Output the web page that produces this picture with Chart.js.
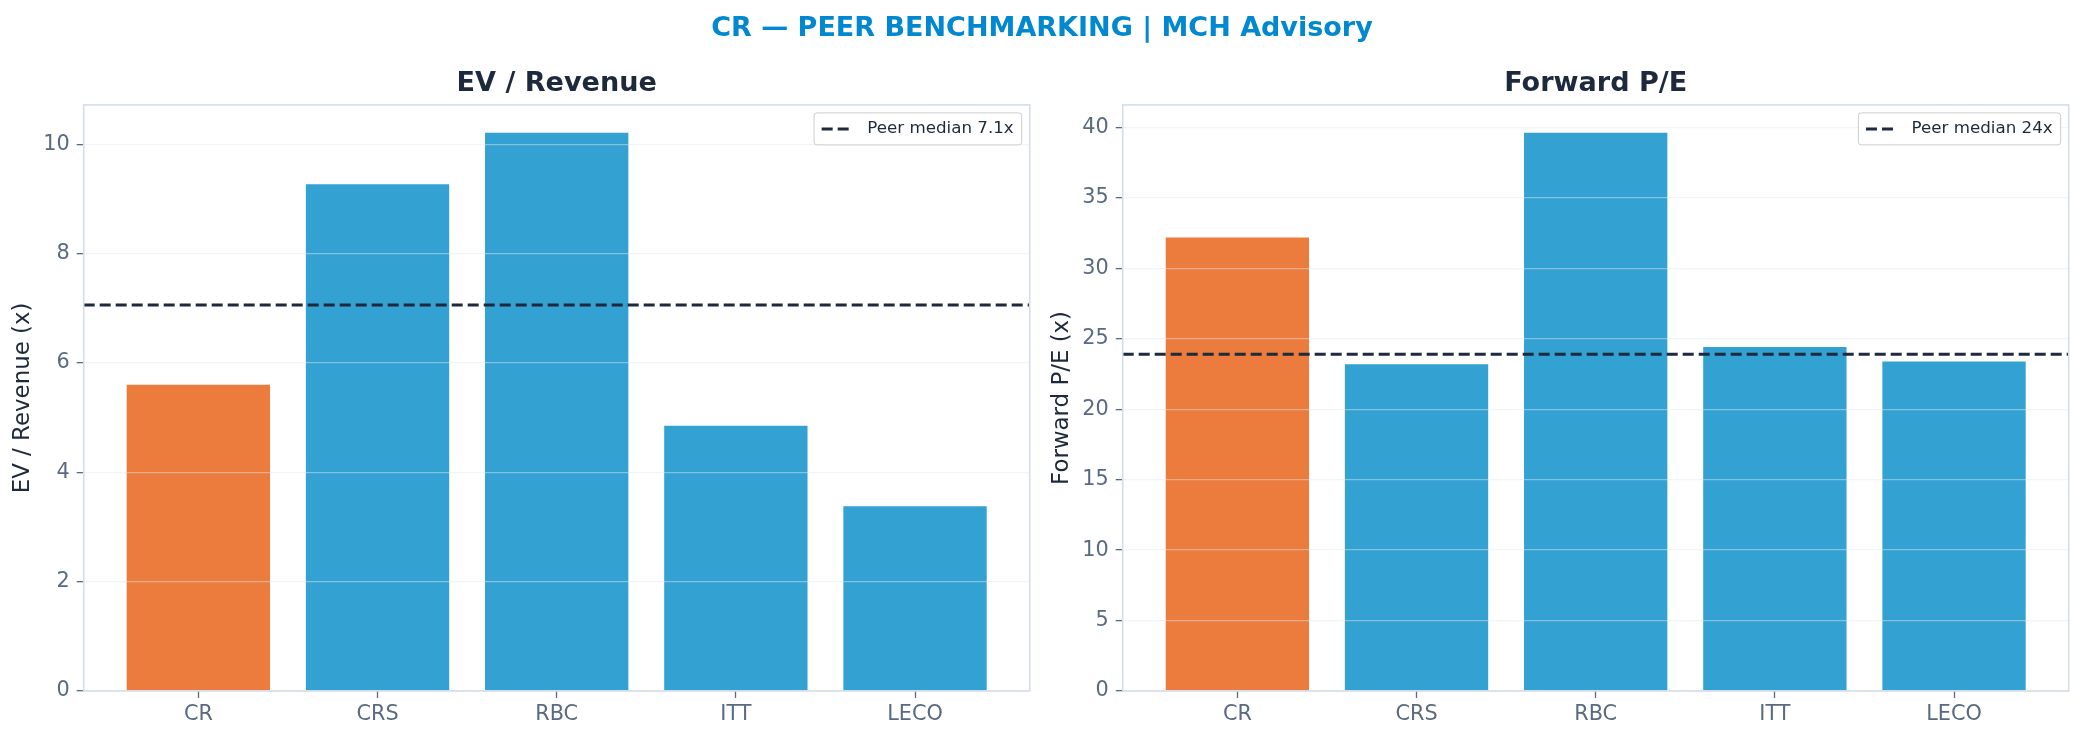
<!DOCTYPE html>
<html>
<head>
<meta charset="utf-8">
<script src="https://cdn.jsdelivr.net/npm/chart.js@4.4.1/dist/chart.umd.min.js"></script>
<style>
  body { margin: 0; background: #fff; }
  #page { position: relative; width: 2084px; height: 741px; overflow: hidden; background: #fff; }
  #suptitle { position: absolute; left: 0; top: 11px; width: 2084px; text-align: center;
    font: bold 27px/32px 'DejaVu Sans'; color: #0288D1; z-index: 2; }
  .panel { position: absolute; top: 0; width: 1042px; height: 741px; }
</style>
</head>
<body>
<div id="page">
  <div id="suptitle">CR — PEER BENCHMARKING | MCH Advisory</div>
  <div class="panel" style="left:0"><canvas id="evRevenueChart"></canvas></div>
  <div class="panel" style="left:1042px"><canvas id="forwardPEChart"></canvas></div>
</div>
<script>
  // values
  const categories = ['CR', 'CRS', 'RBC', 'ITT', 'LECO'];
  const highlight = 'CR';
  const evRevenue = [5.60, 9.27, 10.21, 4.85, 3.38];
  const forwardPE = [32.2, 23.2, 39.63, 24.43, 23.39];
  const evMedian = 7.06;
  const peMedian = 23.91;
  const evMedianLabel = 'Peer median 7.1x';
  const peMedianLabel = 'Peer median 24x';
  const evTicks = [0, 2, 4, 6, 8, 10];
  const peTicks = [0, 5, 10, 15, 20, 25, 30, 35, 40];

  const colors = {
    highlight: '#EC7B3E',
    peer: '#33A2D2',
    median: '#1E293B',
    text: '#1E293B',
    tick: '#5A6A80',
    spine: '#D5DDE8',
    grid: 'rgba(226, 232, 240, 0.45)'
  };

  Chart.defaults.font.family = "'DejaVu Sans'";

  const barWidth = 0.8;
  const xPad = 0.05 * (categories.length - 1 + barWidth);
  const xMin = -barWidth / 2 - xPad;
  const xMax = categories.length - 1 + barWidth / 2 + xPad;

  // matplotlib style frame + legend box inside the axes
  const frameAndLegend = {
    id: 'frameAndLegend',
    afterDraw(chart) {
      const { ctx, chartArea: a } = chart;
      ctx.save();
      ctx.strokeStyle = colors.spine;
      ctx.lineWidth = 1.6;
      ctx.strokeRect(a.left, a.top, a.right - a.left, a.bottom - a.top);

      const label = chart.data.datasets[0].label;
      ctx.font = "16.7px 'DejaVu Sans'";
      const w = 7.6 + 28 + 17.6 + ctx.measureText(label).width + 8;
      const h = 32;
      const x = a.right - 8 - w;
      const y = a.top + 8;
      ctx.beginPath();
      ctx.roundRect(x, y, w, h, 3);
      ctx.fillStyle = 'rgba(255,255,255,0.8)';
      ctx.fill();
      ctx.strokeStyle = '#CCCCCC';
      ctx.lineWidth = 1;
      ctx.stroke();

      ctx.beginPath();
      ctx.setLineDash([11, 5]);
      ctx.moveTo(x + 7.6, y + h / 2);
      ctx.lineTo(x + 35.6, y + h / 2);
      ctx.strokeStyle = colors.median;
      ctx.lineWidth = 3;
      ctx.stroke();
      ctx.setLineDash([]);

      ctx.fillStyle = colors.text;
      ctx.textBaseline = 'middle';
      ctx.textAlign = 'left';
      ctx.fillText(label, x + 53.2, y + h / 2);
      ctx.restore();
    }
  };

  function createPeerChart(canvasId, cfg) {
    const ctx = document.getElementById(canvasId).getContext('2d');
    const yMax = Math.max(...cfg.values) * 1.05;
    new Chart(ctx, {
      type: 'bar',
      data: {
        datasets: [
          {
            type: 'line',
            label: cfg.medianLabel,
            data: [{ x: xMin, y: cfg.median }, { x: xMax, y: cfg.median }],
            borderColor: colors.median,
            borderWidth: 3,
            borderDash: [11, 5],
            pointRadius: 0,
            fill: false,
            order: 0
          },
          {
            type: 'bar',
            label: cfg.title,
            data: cfg.values.map((v, i) => ({ x: i, y: v })),
            backgroundColor: categories.map(c => c === highlight ? colors.highlight : colors.peer),
            borderWidth: 0,
            barPercentage: barWidth,
            categoryPercentage: 1,
            order: 1
          }
        ]
      },
      options: {
        responsive: true,
        maintainAspectRatio: false,
        animation: false,
        layout: { padding: { left: 0, right: cfg.rightPad, top: 0, bottom: 0 } },
        plugins: {
          legend: { display: false },
          tooltip: { enabled: false },
          title: {
            display: true,
            text: cfg.title,
            fullSize: false,
            color: colors.text,
            font: { size: 27.08, weight: 'bold' },
            padding: { top: 68, bottom: 4.4 }
          }
        },
        scales: {
          x: {
            type: 'linear',
            min: xMin,
            max: xMax,
            offset: false,
            afterBuildTicks: scale => { scale.ticks = categories.map((c, i) => ({ value: i })); },
            afterFit: scale => { scale.height = 50; },
            border: { display: false },
            grid: {
              offset: false,
              drawOnChartArea: false,
              drawTicks: true,
              tickLength: 7,
              tickColor: colors.tick,
              tickWidth: 1.3
            },
            ticks: {
              includeBounds: false,
              padding: 4,
              color: colors.tick,
              font: { size: 20.8 },
              maxRotation: 0,
              autoSkip: false,
              callback: v => categories[v]
            }
          },
          y: {
            type: 'linear',
            min: 0,
            max: yMax,
            afterBuildTicks: scale => { scale.ticks = cfg.ticks.map(v => ({ value: v })); },
            afterFit: scale => { scale.width = cfg.axisWidth; },
            border: { display: false },
            grid: {
              color: colors.grid,
              lineWidth: 1.3,
              z: 1,
              tickLength: 7,
              tickColor: colors.tick,
              tickWidth: 1.3
            },
            ticks: {
              includeBounds: false,
              padding: 7,
              color: colors.tick,
              font: { size: 20.8 }
            },
            title: {
              display: true,
              text: cfg.axisTitle,
              color: colors.text,
              font: { size: 22.9 },
              padding: { top: cfg.axisTitlePad, bottom: 0 }
            }
          }
        }
      },
      plugins: [frameAndLegend]
    });
  }

  createPeerChart('evRevenueChart', {
    title: 'EV / Revenue',
    axisTitle: 'EV / Revenue (x)',
    values: evRevenue,
    median: evMedian,
    medianLabel: evMedianLabel,
    ticks: evTicks,
    axisWidth: 83.7,
    rightPad: 12.3,
    axisTitlePad: 9.6
  });

  createPeerChart('forwardPEChart', {
    title: 'Forward P/E',
    axisTitle: 'Forward P/E (x)',
    values: forwardPE,
    median: peMedian,
    medianLabel: peMedianLabel,
    ticks: peTicks,
    axisWidth: 80.7,
    rightPad: 15.3,
    axisTitlePad: 6.8
  });
</script>
</body>
</html>
